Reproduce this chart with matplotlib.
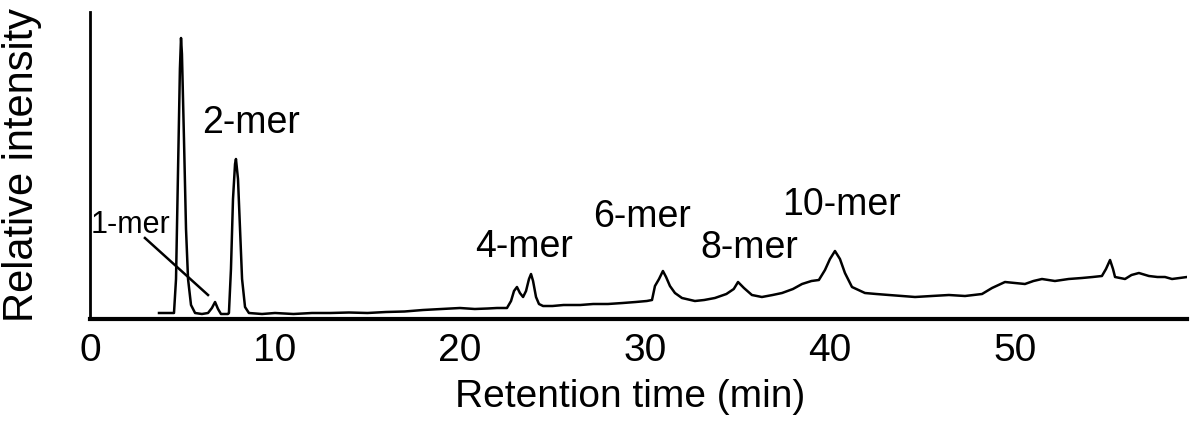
import matplotlib
matplotlib.use("Agg")
import matplotlib.pyplot as plt

plt.rcParams['font.family'] = ['Liberation Sans', 'DejaVu Sans']

# chromatogram trace (min, arbitrary intensity)
time_min = [3.73, 4.54, 4.65, 4.76, 4.86, 4.92, 4.97, 5.08, 5.19, 5.30, 5.46, 5.68,
            6.05, 6.38, 6.59, 6.76, 6.92, 7.08, 7.46,
            7.51, 7.62, 7.73, 7.84, 7.89, 8.00, 8.11, 8.22, 8.38, 8.59,
            9.3, 10.0, 11.0, 12.0, 13.0, 14.0, 15.0, 16.0, 17.0, 18.0, 19.0, 20.0,
            20.8, 21.5, 22.0, 22.54, 22.76, 22.92, 23.08, 23.24, 23.41, 23.57,
            23.73, 23.84, 23.95, 24.11, 24.27, 24.49, 25.0, 25.6, 26.5, 27.2,
            28.0, 28.8, 29.5, 30.1, 30.38, 30.54, 30.76, 30.97, 31.14, 31.35,
            31.62, 32.0, 32.7, 33.2, 33.78, 34.4, 34.8, 35.03, 35.35, 35.78,
            36.32, 36.9, 37.41, 38.0, 38.49, 39.0, 39.4, 39.73, 40.0, 40.27,
            40.54, 40.81, 41.19, 41.89, 42.5, 43.19, 43.9, 44.6, 45.5, 46.43,
            47.3, 48.22, 48.76, 49.46, 50.0, 50.54, 51.0, 51.46, 52.16, 52.9,
            53.62, 54.2, 54.7, 54.92, 55.14, 55.3, 55.41, 55.95, 56.3, 56.7,
            57.24, 57.7, 58.11, 58.49, 58.9, 59.3]
intensity = [6, 6, 40, 150, 250, 281, 265, 180, 90, 40, 14, 6,
             5, 6, 11, 17, 10, 5, 5,
             6, 50, 120, 155, 160, 140, 90, 40, 12, 6,
             5, 6, 5, 6, 6, 6.5, 6, 7, 7.5, 9, 10, 11,
             10, 10.5, 11, 11, 18, 28, 32, 26, 22, 28,
             40, 45, 38, 22, 15, 13, 13, 14, 14, 15,
             15, 16, 17, 18, 19, 33, 40, 48, 42, 33,
             26, 21, 18, 19, 21, 25, 30, 37, 31, 24,
             22, 24, 26, 30, 35, 38, 39, 49, 60, 68,
             60, 46, 32, 26, 25, 24, 23, 22, 23, 24,
             23, 25, 31, 37, 36, 35, 38, 40, 38, 40,
             41, 42, 43, 50, 59, 50, 42, 40, 44, 46,
             43, 42, 42, 40, 41, 42]

oligomers = ["1-mer", "2-mer", "4-mer", "6-mer", "8-mer", "10-mer"]

fig = plt.figure(figsize=(11.91, 4.24), dpi=100)
ax = fig.add_axes([90 / 1191, 105 / 424, 1097 / 1191, 307 / 424])

ax.plot(time_min, intensity, color='black', lw=1.8)

ax.set_xlim(0, 59.3)
ax.set_ylim(0, 307)
ax.set_xticks([0, 10, 20, 30, 40, 50])
ax.set_yticks([])
ax.tick_params(axis='x', length=0, pad=10, labelsize=28)

for side in ['top', 'right']:
    ax.spines[side].set_visible(False)
ax.spines['bottom'].set_linewidth(3)
ax.spines['left'].set_linewidth(2)

ax.set_xlabel("Retention time (min)", fontsize=28)
ax.xaxis.set_label_coords(0.492, -0.195)
ax.set_ylabel("Relative intensity", fontsize=30)
ax.yaxis.set_label_coords(-0.044, 0.5)

# peak labels (left x, baseline y in data units, font size)
label_pos = [(0.05, 86, 22), (6.05, 186, 27), (20.82, 62, 27),
             (27.2, 92, 27), (32.98, 61, 27), (37.41, 104, 27)]
for name, (x, y, fs) in zip(oligomers, label_pos):
    ax.text(x, y, name, fontsize=fs, ha='left', va='baseline', clip_on=False)

# pointer from 1-mer label to its small peak
ax.plot([2.97, 6.38], [81, 24], color='black', lw=1.8)

fig.savefig("out.png", dpi=100)
